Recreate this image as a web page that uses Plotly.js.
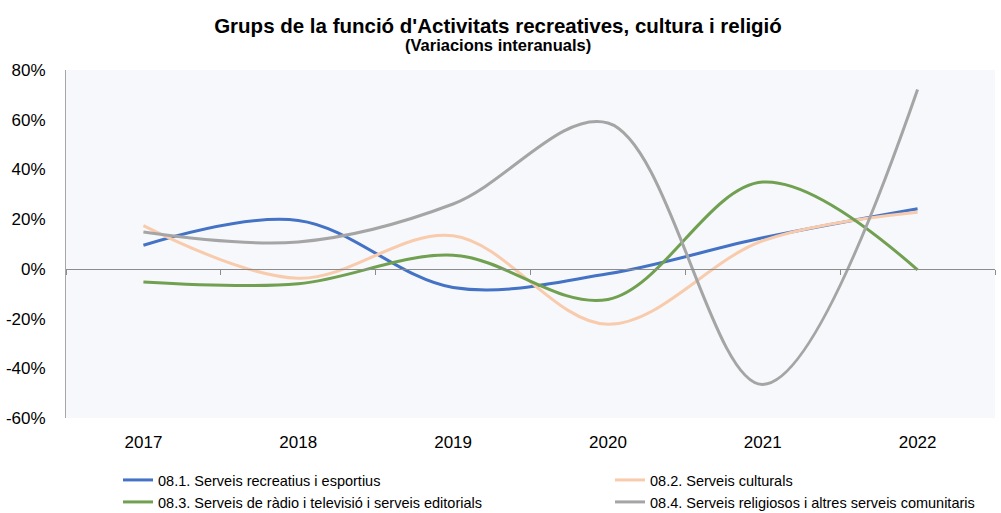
<!DOCTYPE html>
<html><head><meta charset="utf-8">
<script src="https://cdn.plot.ly/plotly-3.0.1.min.js"></script>
<style>html,body{margin:0;padding:0;background:#fff}#chart{width:1001px;height:513px}</style>
</head><body><div id="chart"></div>
<script>
const years = ["2017","2018","2019","2020","2021","2022"];
const s1Name = "08.1. Serveis recreatius i esportius";
const s2Name = "08.2. Serveis culturals";
const s3Name = "08.3. Serveis de ràdio i televisió i serveis editorials";
const s4Name = "08.4. Serveis religiosos i altres serveis comunitaris";
const s1 = [9.5, 19.5, -7.5, -2.0, 12.5, 24.2];
const s2 = [17.4, -3.8, 13.3, -22.3, 11.3, 22.8];
const s3 = [-5.3, -6.0, 5.5, -12.3, 34.9, -0.4];
const s4 = [14.8, 10.8, 26.1, 58.7, -46.5, 72.2];
const yTicks = [-60, -40, -20, 0, 20, 40, 60, 80];
const yMin = -60, yMax = 80;

const mk = (y, name, color, legend) => ({
  x: years, y: y, name: name, type: 'scatter', mode: 'lines',
  line: {color: color, width: 3, shape: 'spline', smoothing: 1},
  legend: legend, hoverinfo: 'skip'
});
const traces = [
  mk(s1, s1Name, '#4472C4', 'legend'),
  mk(s2, s2Name, '#F8CBAD', 'legend2'),
  mk(s3, s3Name, '#70A050', 'legend3'),
  mk(s4, s4Name, '#A5A5A5', 'legend4'),
  {x: [], y: [], xaxis: 'x2', yaxis: 'y', showlegend: false, hoverinfo: 'skip', type: 'scatter'}
];
const boundaries = years.map((_, i) => i - 0.5).concat([years.length - 0.5]);
const zeroPos = (0 - yMin) / (yMax - yMin);
const font = {family: 'Liberation Sans, Arial, sans-serif', color: '#000'};
const legendCommon = {
  orientation: 'h', xref: 'container', yref: 'container', xanchor: 'left', yanchor: 'middle',
  font: {family: font.family, size: 14.5, color: '#000'},
  bgcolor: 'rgba(0,0,0,0)', itemclick: false
};
const L = (px, py) => Object.assign({}, legendCommon, {x: px/1001, y: 1 - py/513});
const layout = {
  width: 1001, height: 513,
  margin: {l: 66, r: 6, t: 70, b: 95},
  paper_bgcolor: '#ffffff', plot_bgcolor: '#F6F8FC',
  font: font,
  title: {text: "<b>Grups de la funció d'Activitats recreatives, cultura i religió</b>",
          font: {family: font.family, size: 20.5, color: '#000'}, x: 498/1001, xanchor: 'center',
          xref: 'container', y: 1 - 26/513, yanchor: 'middle', yref: 'container'},
  annotations: [{text: '<b>(Variacions interanuals)</b>', xref: 'paper', yref: 'paper',
    x: (498 - 66)/929, y: (418 - 45)/348, xanchor: 'center', yanchor: 'middle', showarrow: false,
    font: {family: font.family, size: 16.5, color: '#000'}}],
  xaxis: {type: 'category', range: [-0.5, years.length - 0.5], showgrid: false, zeroline: false,
    showline: false, ticks: '', tickfont: {size: 17, color: '#000'}, ticklabelstandoff: 12, fixedrange: true},
  xaxis2: {overlaying: 'x', anchor: 'free', position: zeroPos, range: [-0.5, years.length - 0.5],
    tickvals: boundaries, ticks: 'outside', ticklen: 5, tickcolor: '#8C8C8C', tickwidth: 1,
    showline: true, linecolor: '#8C8C8C', linewidth: 1, showticklabels: false,
    showgrid: false, zeroline: false, fixedrange: true},
  yaxis: {range: [yMin, yMax], tickvals: yTicks, ticktext: yTicks.map(v => v + '%'),
    showgrid: false, zeroline: false, showline: true, linecolor: '#A6A6A6', linewidth: 1,
    ticks: '', tickfont: {size: 17, color: '#000'}, ticklabelstandoff: 16, fixedrange: true},
  legend: L(118, 480),
  legend2: L(610, 480),
  legend3: L(118, 502),
  legend4: L(610, 502),
  showlegend: true
};
Plotly.newPlot('chart', traces, layout, {displayModeBar: false, staticPlot: true});
</script></body></html>
